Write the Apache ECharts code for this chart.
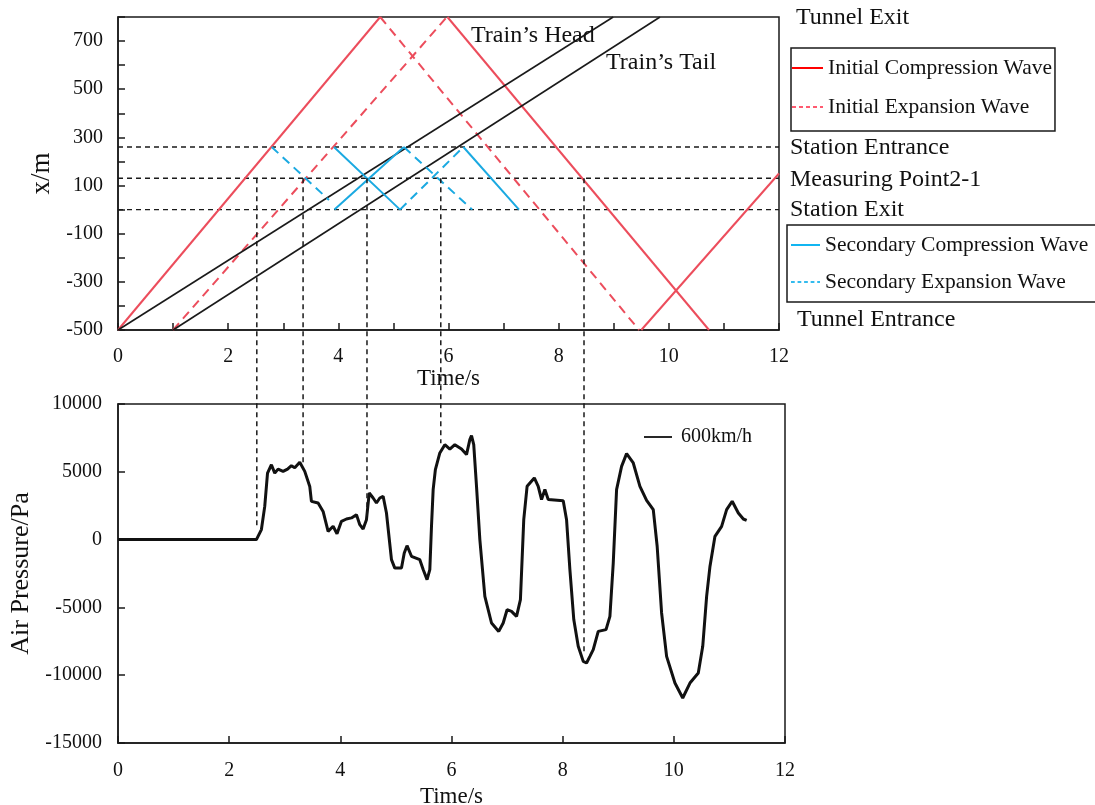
<!DOCTYPE html>
<html>
<head>
<meta charset="utf-8">
<script src="https://cdn.jsdelivr.net/npm/echarts@6/dist/echarts.min.js"></script>
<style>
html,body{margin:0;padding:0;background:#fff;}
#main{width:1095px;height:805px;}
</style>
</head>
<body>
<div id="main"></div>
<script>
// 上图: 波的传播 (t, x)
var headLine = [[0, -500], [8.99, 800]];
var tailLine = [[1.0, -500], [9.84, 800]];
var redSolid = [
    [[0, -500], [4.76, 800]],
    [[5.98, 800], [10.73, -500]],
    [[9.5, -500], [12, 150]]
];
var redDashed = [
    [[1.0, -500], [5.97, 800]],
    [[4.76, 800], [9.46, -500]]
];
var blueSolid = [
    [[3.92, 260], [5.12, 0]],
    [[3.93, 0], [5.19, 260]],
    [[6.27, 260], [7.28, 0]]
];
var blueDashed = [
    [[2.79, 260], [3.83, 40]],
    [[5.19, 260], [6.43, 0]],
    [[5.12, 0], [6.27, 260]]
];
var stationLevels = [0, 130, 260];
var measurePoint = 130;
// 竖向虚线: 时刻 与 下图压力终点
var markerTimes = [2.52, 3.36, 4.52, 5.86, 8.46];
var markerEnds = [900, 5700, 1500, 7100, -8400];

// 下图: 600km/h 压力
var pressure = [
    [0, 0], [2.49, 0], [2.58, 740], [2.64, 2450], [2.69, 4900], [2.76, 5520], [2.82, 4900],
    [2.88, 5200], [2.97, 5030], [3.05, 5200], [3.12, 5450], [3.18, 5300], [3.27, 5700],
    [3.36, 5030], [3.45, 3920], [3.48, 2820], [3.6, 2700], [3.69, 2080], [3.78, 610],
    [3.87, 980], [3.94, 430], [4.02, 1350], [4.11, 1520], [4.2, 1600], [4.29, 1840],
    [4.35, 1100], [4.41, 780], [4.47, 1470], [4.52, 3440], [4.59, 3070], [4.65, 2700],
    [4.71, 3070], [4.77, 3200], [4.83, 1960], [4.92, -1480], [4.98, -2100], [5.1, -2100],
    [5.15, -990], [5.2, -450], [5.28, -1230], [5.43, -1480], [5.49, -2210], [5.56, -2950],
    [5.61, -2210], [5.64, 980], [5.67, 3690], [5.71, 5160], [5.79, 6390], [5.88, 7000],
    [5.97, 6680], [6.06, 7000], [6.18, 6680], [6.27, 6270], [6.33, 7370], [6.36, 7670],
    [6.4, 7000], [6.45, 3930], [6.51, 0], [6.6, -4180], [6.72, -6150], [6.85, -6770],
    [6.93, -6150], [7.0, -5170], [7.08, -5290], [7.17, -5660], [7.24, -4430], [7.3, 1470],
    [7.36, 3930], [7.49, 4550], [7.56, 3930], [7.62, 2950], [7.68, 3690], [7.74, 2950],
    [8.01, 2870], [8.07, 1470], [8.13, -2210], [8.2, -5900], [8.28, -7870], [8.37, -8980],
    [8.43, -9100], [8.49, -8610], [8.55, -8110], [8.64, -6770], [8.78, -6640], [8.85, -5660],
    [8.91, -1730], [8.97, 3690], [9.06, 5400], [9.15, 6340], [9.27, 5650], [9.39, 3930],
    [9.51, 2900], [9.63, 2210], [9.7, -490], [9.78, -5410], [9.87, -8610], [10.02, -10580],
    [10.16, -11680], [10.29, -10580], [10.44, -9840], [10.52, -7870], [10.59, -4190],
    [10.65, -1980], [10.74, 240], [10.86, 980], [10.95, 2210], [11.05, 2830], [11.16, 1960],
    [11.25, 1520], [11.31, 1420]
];

var FONT = '"Liberation Serif", "Times New Roman", serif';
var RED = '#EC4D5C', BLUE = '#1AA9E1', INK = '#1a1a1a';
var ICON_SOLID = 'path://M0,0H31V2H0Z';
var ICON_DASH = 'path://M0,0h4v2h-4zM7,0h4v2h-4zM14,0h4v2h-4zM21,0h4v2h-4zM28,0h3v2h-3z';

function seg(data, color, width, type) {
    return {
        type: 'line', xAxisIndex: 0, yAxisIndex: 0, data: data,
        symbol: 'none', silent: true, animation: false,
        lineStyle: {color: color, width: width, type: type}
    };
}
function legendSeries(name, color) {
    return {
        type: 'line', name: name, xAxisIndex: 0, yAxisIndex: 0, data: [],
        symbol: 'none', color: color, lineStyle: {color: color, width: 2}
    };
}

var series = [];
stationLevels.forEach(function (v) {
    series.push(seg([[0, v], [12, v]], INK, 1.4, [5, 4]));
});
redSolid.forEach(function (d) { series.push(seg(d, RED, 2, 'solid')); });
redDashed.forEach(function (d) { series.push(seg(d, RED, 2, [9, 6])); });
series.push(seg(headLine, INK, 1.6, 'solid'));
series.push(seg(tailLine, INK, 1.6, 'solid'));
blueSolid.forEach(function (d) { series.push(seg(d, BLUE, 2, 'solid')); });
blueDashed.forEach(function (d) { series.push(seg(d, BLUE, 2, [9, 6])); });

series.push(legendSeries('Initial Compression Wave', '#FF0000'));
series.push(legendSeries('Initial Expansion Wave', '#FF5A70'));
series.push(legendSeries('Secondary Compression Wave', '#00B0F0'));
series.push(legendSeries('Secondary Expansion Wave', '#33BBEE'));

series.push({
    type: 'line', name: '600km/h', xAxisIndex: 1, yAxisIndex: 1, data: pressure,
    symbol: 'none', color: '#111', animation: false,
    lineStyle: {color: '#111', width: 3}
});

function ax(extra) {
    var o = {
        axisLine: {show: true, onZero: false, lineStyle: {color: INK, width: 1.5}},
        axisTick: {show: true, inside: true, length: 7, lineStyle: {color: INK, width: 1.5}},
        splitLine: {show: false},
        axisLabel: {color: '#111', fontFamily: FONT, fontSize: 20, formatter: function (v) { return String(v); }}
    };
    for (var k in extra) {
        if (o[k] && typeof extra[k] === 'object') {
            for (var j in extra[k]) o[k][j] = extra[k][j];
        } else {
            o[k] = extra[k];
        }
    }
    return o;
}

var texts = [
    ['Train\u2019s Head', 471, 36],
    ['Train\u2019s Tail', 606, 63],
    ['Tunnel Exit', 796, 18],
    ['Station Entrance', 790, 148],
    ['Measuring Point2-1', 790, 180],
    ['Station Exit', 790, 210],
    ['Tunnel Entrance', 797, 320]
].map(function (t) {
    return {
        type: 'text', x: t[1], y: t[2], z: 50,
        style: {text: t[0], fill: '#111', font: '24px ' + FONT, verticalAlign: 'middle'}
    };
});

var option = {
    animation: false,
    textStyle: {fontFamily: FONT},
    grid: [
        {left: 118, top: 17, width: 661, height: 313, show: true, borderColor: INK, borderWidth: 1.5, outerBoundsMode: 'none'},
        {left: 118, top: 404, width: 667, height: 339, show: true, borderColor: INK, borderWidth: 1.5, outerBoundsMode: 'none'}
    ],
    xAxis: [
        ax({
            type: 'value', gridIndex: 0, min: 0, max: 12, interval: 1,
            name: 'Time/s', nameLocation: 'middle', nameGap: 37,
            nameTextStyle: {color: '#111', fontFamily: FONT, fontSize: 23},
            axisLabel: {margin: 17, formatter: function (v) { return v % 2 === 0 ? String(v) : ''; }}
        }),
        ax({
            type: 'value', gridIndex: 1, min: 0, max: 12, interval: 2,
            name: 'Time/s', nameLocation: 'middle', nameGap: 42,
            nameTextStyle: {color: '#111', fontFamily: FONT, fontSize: 23},
            axisLabel: {margin: 18}
        })
    ],
    yAxis: [
        ax({
            type: 'value', gridIndex: 0, min: -500, max: 800, interval: 100,
            name: 'x/m', nameLocation: 'middle', nameGap: 60, nameRotate: 90,
            nameTextStyle: {color: '#111', fontFamily: FONT, fontSize: 27},
            axisLabel: {margin: 15, formatter: function (v) { return (v + 500) % 200 === 0 ? String(v) : ''; }}
        }),
        ax({
            type: 'value', gridIndex: 1, min: -15000, max: 10000, interval: 5000,
            name: 'Air Pressure/Pa', nameLocation: 'middle', nameGap: 82, nameRotate: 90,
            nameTextStyle: {color: '#111', fontFamily: FONT, fontSize: 26},
            axisLabel: {margin: 16}
        })
    ],
    legend: [
        {
            data: [
                {name: 'Initial Compression Wave', icon: ICON_SOLID},
                {name: 'Initial Expansion Wave', icon: ICON_DASH}
            ],
            orient: 'vertical', left: 791, top: 48, itemWidth: 31, itemHeight: 2, itemGap: 17,
            borderColor: INK, borderWidth: 1.5, padding: [9, 3, 13, 1],
            textStyle: {color: '#111', fontFamily: FONT, fontSize: 21.5, lineHeight: 22}
        },
        {
            data: [
                {name: 'Secondary Compression Wave', icon: ICON_SOLID},
                {name: 'Secondary Expansion Wave', icon: ICON_DASH}
            ],
            orient: 'vertical', left: 787, top: 225, itemWidth: 29, itemHeight: 2, itemGap: 15,
            borderColor: INK, borderWidth: 1.5, padding: [9, 12, 9, 4],
            textStyle: {color: '#111', fontFamily: FONT, fontSize: 21.5, lineHeight: 22}
        },
        {
            data: [{name: '600km/h', icon: ICON_SOLID}],
            left: 639, top: 421, itemWidth: 28, itemHeight: 3,
            textStyle: {color: '#111', fontFamily: FONT, fontSize: 20, lineHeight: 22, padding: [0, 0, 0, 4]}
        }
    ],
    graphic: texts,
    series: series
};

var chart = echarts.init(document.getElementById('main'));
chart.setOption(option);

// 竖向虚线: 从测点连到下图曲线
var vlines = markerTimes.map(function (t, i) {
    var p1 = chart.convertToPixel({gridIndex: 0}, [t, measurePoint]);
    var p2 = chart.convertToPixel({gridIndex: 1}, [t, markerEnds[i]]);
    return {
        type: 'line', z: 40,
        shape: {x1: p1[0], y1: p1[1], x2: p1[0], y2: p2[1]},
        style: {stroke: INK, lineWidth: 1.5, lineDash: [5, 4]}
    };
});
chart.setOption({graphic: texts.concat(vlines)});
</script>
</body>
</html>
